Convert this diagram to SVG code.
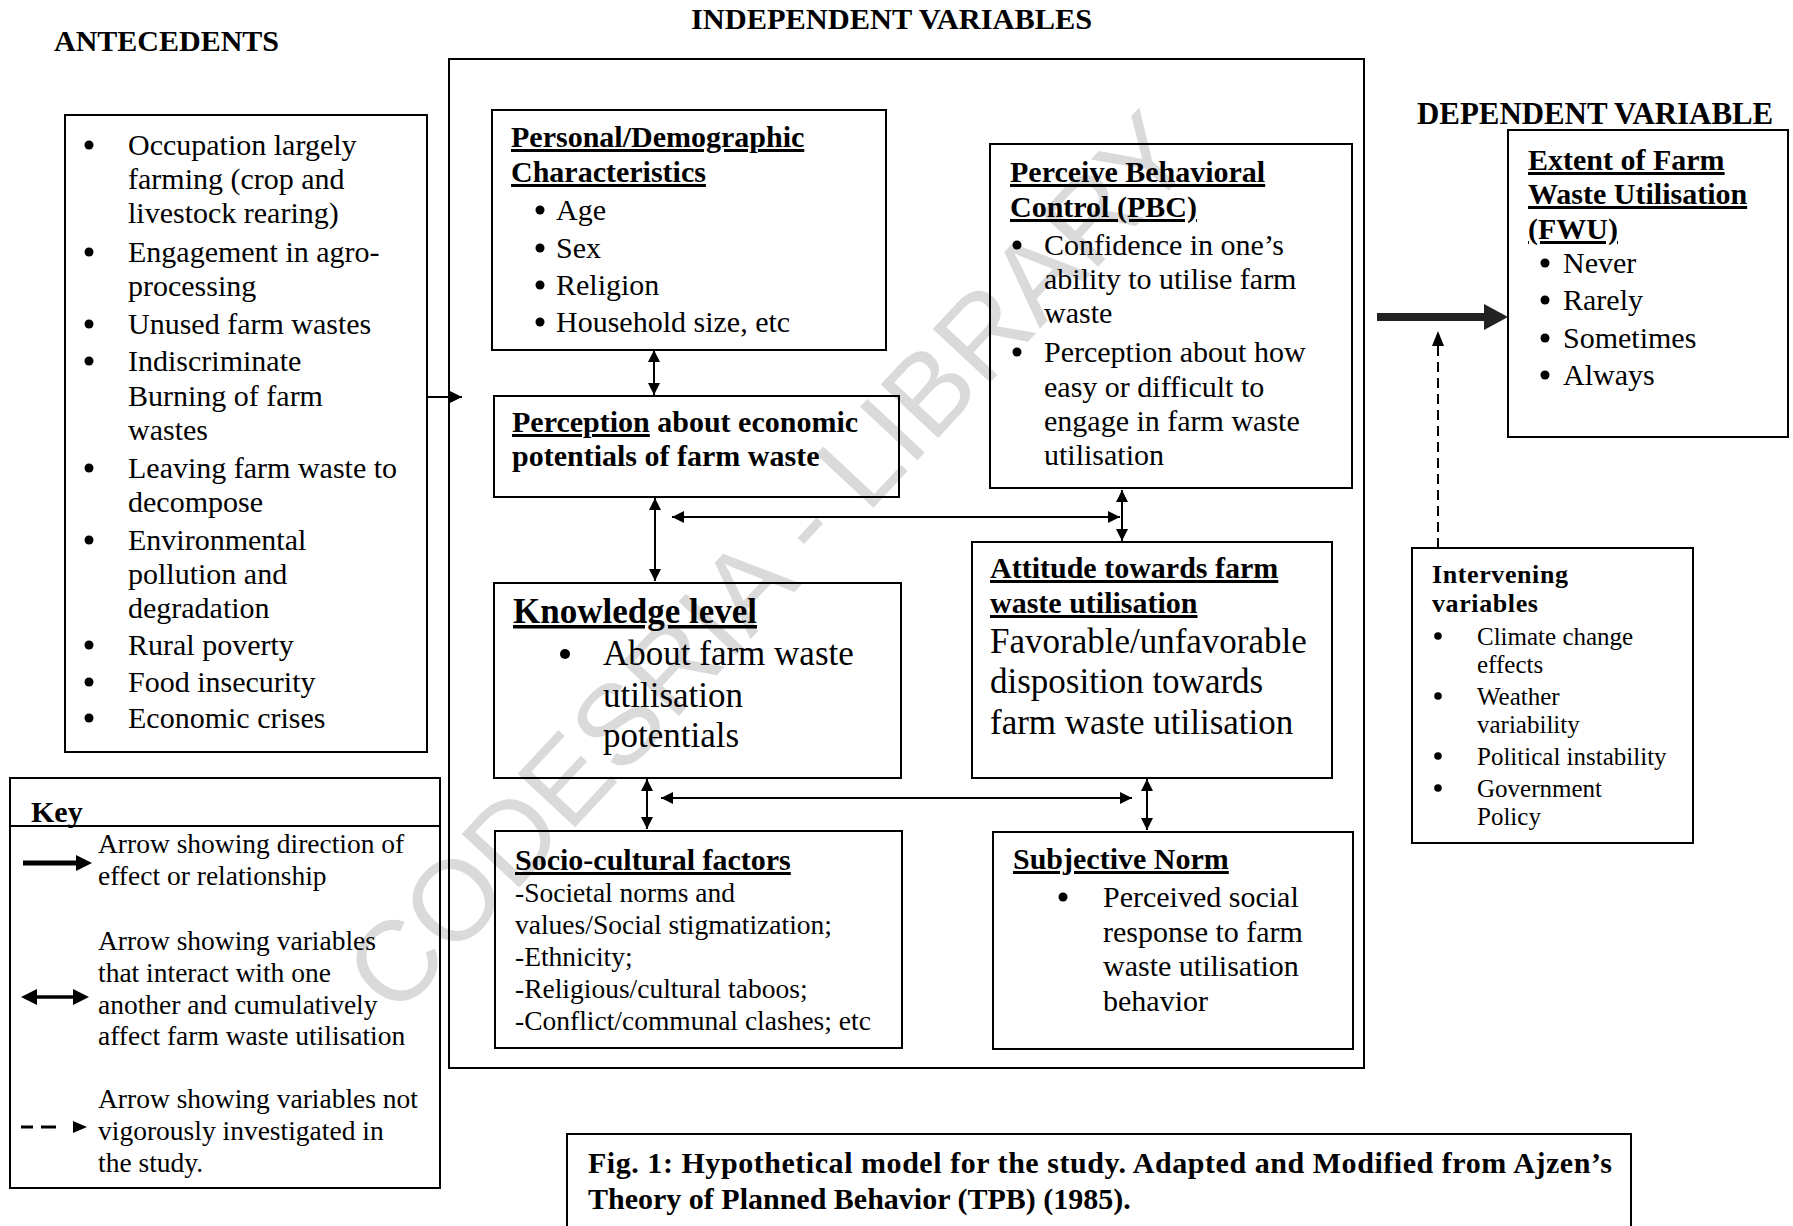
<svg xmlns="http://www.w3.org/2000/svg" width="1793" height="1226" viewBox="0 0 1793 1226">
<style>
.box{fill:none;stroke:#000;stroke-width:2}
.t{font-family:"Liberation Serif","Times New Roman",serif;fill:#000;font-size:30px}
.b{font-weight:bold}
.u{text-decoration:underline}
.s35{font-size:35px}
.s27{font-size:27.5px}
.s25{font-size:25px}
.dot{fill:#000}
.conn{stroke:#000;stroke-width:2;fill:none}
.wm{font-family:"Liberation Sans",Arial,sans-serif;font-size:114px;fill:#dadada}
</style>
<defs>
<marker id="ah" viewBox="0 0 10 10" refX="10" refY="5" markerUnits="userSpaceOnUse" markerWidth="14" markerHeight="12" orient="auto-start-reverse">
<path d="M0,0 L10,5 L0,10 z" fill="#000"/>
</marker>
</defs>
<rect width="1793" height="1226" fill="#fff"/>

<g id="watermark">
<text class="wm" transform="translate(768,562) rotate(-47)" text-anchor="middle" dy="0.35em">CODESRIA - LIBRARY</text>
</g>

<g id="titles" class="t b">
<text x="54" y="51" font-size="30">ANTECEDENTS</text>
<text x="691" y="29" font-size="30.4">INDEPENDENT VARIABLES</text>
<text x="1417" y="124" font-size="30.9">DEPENDENT VARIABLE</text>
</g>

<g id="main-frame"><rect class="box" x="449" y="59" width="915" height="1009"/></g>

<g id="antecedents">
<rect class="box" x="65" y="115" width="362" height="637"/>
<g class="dot">
<circle cx="89" cy="145" r="4.5"/>
<circle cx="89" cy="252" r="4.5"/>
<circle cx="89" cy="324" r="4.5"/>
<circle cx="89" cy="361" r="4.5"/>
<circle cx="89" cy="468" r="4.5"/>
<circle cx="89" cy="540" r="4.5"/>
<circle cx="89" cy="645" r="4.5"/>
<circle cx="89" cy="682" r="4.5"/>
<circle cx="89" cy="718" r="4.5"/>
</g>
<g class="t">
<text x="128" y="155">Occupation largely</text>
<text x="128" y="189">farming (crop and</text>
<text x="128" y="223">livestock rearing)</text>
<text x="128" y="262">Engagement in agro-</text>
<text x="128" y="296">processing</text>
<text x="128" y="334">Unused farm wastes</text>
<text x="128" y="371">Indiscriminate</text>
<text x="128" y="406">Burning of farm</text>
<text x="128" y="440">wastes</text>
<text x="128" y="478">Leaving farm waste to</text>
<text x="128" y="512">decompose</text>
<text x="128" y="550">Environmental</text>
<text x="128" y="584">pollution and</text>
<text x="128" y="618">degradation</text>
<text x="128" y="655">Rural poverty</text>
<text x="128" y="692">Food insecurity</text>
<text x="128" y="728">Economic crises</text>
</g>
</g>

<g id="key">
<rect class="box" x="10" y="778" width="430" height="410"/>
<line class="conn" x1="10" y1="826" x2="440" y2="826"/>
<text class="t b" x="31" y="822" font-size="38">Key</text>
<line x1="23" y1="863" x2="80" y2="863" stroke="#000" stroke-width="5"/>
<polygon points="76,855 92,863 76,871" fill="#000"/>
<line x1="32" y1="997" x2="78" y2="997" stroke="#000" stroke-width="3.5"/>
<polygon points="21,997 37,989 37,1005" fill="#000"/>
<polygon points="89,997 73,989 73,1005" fill="#000"/>
<line x1="21" y1="1127" x2="33" y2="1127" stroke="#000" stroke-width="3"/>
<line x1="41" y1="1127" x2="56" y2="1127" stroke="#000" stroke-width="3"/>
<polygon points="73,1121 87,1127 73,1133" fill="#000"/>
<g class="t s27">
<text x="98" y="853">Arrow showing direction of</text>
<text x="98" y="885">effect or relationship</text>
<text x="98" y="950">Arrow showing variables</text>
<text x="98" y="982">that interact with one</text>
<text x="98" y="1014">another and cumulatively</text>
<text x="98" y="1045">affect farm waste utilisation</text>
<text x="98" y="1108">Arrow showing variables not</text>
<text x="98" y="1140">vigorously investigated in</text>
<text x="98" y="1172">the study.</text>
</g>
</g>

<g id="personal">
<rect class="box" x="492" y="110" width="394" height="240"/>
<g class="dot">
<circle cx="540" cy="210" r="4.5"/>
<circle cx="540" cy="248" r="4.5"/>
<circle cx="540" cy="285" r="4.5"/>
<circle cx="540" cy="322" r="4.5"/>
</g>
<g class="t">
<text class="b u" x="511" y="147">Personal/Demographic</text>
<text class="b u" x="511" y="182">Characteristics</text>
<text x="556" y="220">Age</text>
<text x="556" y="258">Sex</text>
<text x="556" y="295">Religion</text>
<text x="556" y="332">Household size, etc</text>
</g>
</g>

<g id="perception">
<rect class="box" x="494" y="396" width="405" height="101"/>
<g class="t b">
<text x="512" y="432"><tspan class="u">Perception</tspan> about economic</text>
<text x="512" y="466">potentials of farm waste</text>
</g>
</g>

<g id="pbc">
<rect class="box" x="990" y="144" width="362" height="344"/>
<g class="dot">
<circle cx="1017" cy="245" r="4.5"/>
<circle cx="1017" cy="352" r="4.5"/>
</g>
<g class="t">
<text class="b u" x="1010" y="182">Perceive Behavioral</text>
<text class="b u" x="1010" y="217">Control (PBC)</text>
<text x="1044" y="255">Confidence in one’s</text>
<text x="1044" y="289">ability to utilise farm</text>
<text x="1044" y="323">waste</text>
<text x="1044" y="362">Perception about how</text>
<text x="1044" y="397">easy or difficult to</text>
<text x="1044" y="431">engage  in farm waste</text>
<text x="1044" y="465">utilisation</text>
</g>
</g>

<g id="knowledge">
<rect class="box" x="494" y="583" width="407" height="195"/>
<circle class="dot" cx="565" cy="654" r="5"/>
<g class="t s35">
<text class="b u" x="513" y="623">Knowledge level</text>
<text x="603" y="665">About farm waste</text>
<text x="603" y="707">utilisation</text>
<text x="603" y="747">potentials</text>
</g>
</g>

<g id="attitude">
<rect class="box" x="972" y="542" width="360" height="236"/>
<g class="t">
<text class="b u" x="990" y="578">Attitude towards farm</text>
<text class="b u" x="990" y="613">waste utilisation</text>
<text class="s35" x="990" y="653">Favorable/unfavorable</text>
<text class="s35" x="990" y="693">disposition towards</text>
<text class="s35" x="990" y="734">farm waste utilisation</text>
</g>
</g>

<g id="sociocultural">
<rect class="box" x="495" y="831" width="407" height="217"/>
<g class="t">
<text class="b u" x="515" y="870">Socio-cultural factors</text>
<text class="s27" x="515" y="902">-Societal norms and</text>
<text class="s27" x="515" y="934">values/Social stigmatization;</text>
<text class="s27" x="515" y="966">-Ethnicity;</text>
<text class="s27" x="515" y="998">-Religious/cultural taboos;</text>
<text class="s27" x="515" y="1030">-Conflict/communal clashes; etc</text>
</g>
</g>

<g id="subjective">
<rect class="box" x="993" y="832" width="360" height="217"/>
<circle class="dot" cx="1063" cy="897" r="4.5"/>
<g class="t">
<text class="b u" x="1013" y="869">Subjective Norm</text>
<text x="1103" y="907">Perceived social</text>
<text x="1103" y="942">response to farm</text>
<text x="1103" y="976">waste utilisation</text>
<text x="1103" y="1011">behavior</text>
</g>
</g>

<g id="fwu">
<rect class="box" x="1508" y="130" width="280" height="307"/>
<g class="dot">
<circle cx="1545" cy="263" r="4.5"/>
<circle cx="1545" cy="300" r="4.5"/>
<circle cx="1545" cy="338" r="4.5"/>
<circle cx="1545" cy="375" r="4.5"/>
</g>
<g class="t">
<text class="b u" x="1528" y="170">Extent of Farm</text>
<text class="b u" x="1528" y="204">Waste Utilisation</text>
<text class="b u" x="1528" y="239">(FWU)</text>
<text x="1563" y="273">Never</text>
<text x="1563" y="310">Rarely</text>
<text x="1563" y="348">Sometimes</text>
<text x="1563" y="385">Always</text>
</g>
</g>

<g id="intervening">
<rect class="box" x="1412" y="548" width="281" height="295"/>
<g class="dot">
<circle cx="1438" cy="636" r="3.8"/>
<circle cx="1438" cy="696" r="3.8"/>
<circle cx="1438" cy="756" r="3.8"/>
<circle cx="1438" cy="788" r="3.8"/>
</g>
<g class="t s25">
<text class="b" x="1432" y="583" font-size="26" letter-spacing="0.6">Intervening</text>
<text class="b" x="1432" y="612" font-size="26" letter-spacing="0.6">variables</text>
<text x="1477" y="645">Climate change</text>
<text x="1477" y="673">effects</text>
<text x="1477" y="705">Weather</text>
<text x="1477" y="733">variability</text>
<text x="1477" y="765">Political instability</text>
<text x="1477" y="797">Government</text>
<text x="1477" y="825">Policy</text>
</g>
</g>

<g id="caption">
<path class="box" d="M567,1230 V1134 H1631 V1230"/>
<g class="t b" font-size="30.5">
<text x="588" y="1173" textLength="1024" lengthAdjust="spacing">Fig. 1: Hypothetical model for the study. Adapted and Modified from Ajzen’s</text>
<text x="588" y="1209">Theory of Planned Behavior (TPB) (1985).</text>
</g>
</g>

<g id="connectors">
<line class="conn" x1="427" y1="397" x2="462" y2="397" marker-end="url(#ah)"/>
<line class="conn" x1="654" y1="350" x2="654" y2="395" marker-start="url(#ah)" marker-end="url(#ah)"/>
<line class="conn" x1="655" y1="498" x2="655" y2="581" marker-start="url(#ah)" marker-end="url(#ah)"/>
<line class="conn" x1="672" y1="517" x2="1120" y2="517" marker-start="url(#ah)" marker-end="url(#ah)"/>
<line class="conn" x1="1122" y1="490" x2="1122" y2="541" marker-start="url(#ah)" marker-end="url(#ah)"/>
<line class="conn" x1="647" y1="779" x2="647" y2="829" marker-start="url(#ah)" marker-end="url(#ah)"/>
<line class="conn" x1="661" y1="798" x2="1132" y2="798" marker-start="url(#ah)" marker-end="url(#ah)"/>
<line class="conn" x1="1147" y1="779" x2="1147" y2="830" marker-start="url(#ah)" marker-end="url(#ah)"/>
<rect x="1377" y="313" width="110" height="8" fill="#222"/>
<polygon points="1484,304 1508,317 1484,330" fill="#222"/>
<line x1="1438" y1="548" x2="1438" y2="343" stroke="#000" stroke-width="2" stroke-dasharray="10 6"/>
<polygon points="1432,346 1438,331 1444,346" fill="#000"/>
</g>
</svg>
